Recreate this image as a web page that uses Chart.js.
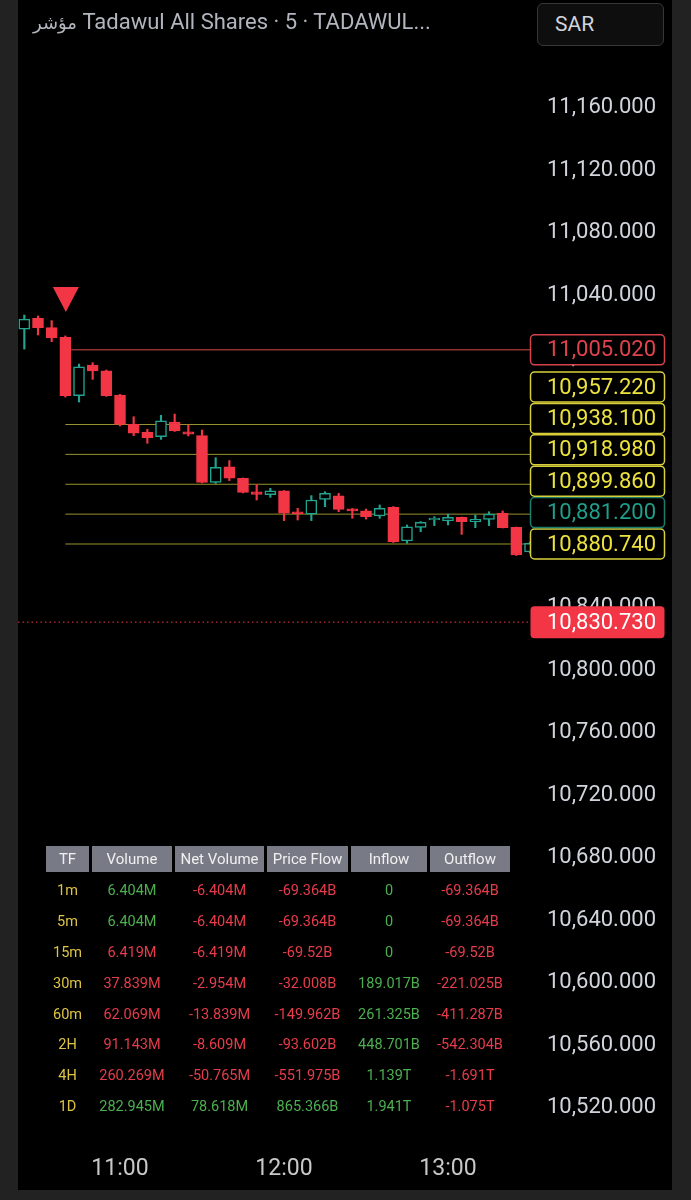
<!DOCTYPE html>
<html lang="en">
<head>
  <meta charset="UTF-8">
  <title>Tadawul All Shares 5m</title>
  <script src="https://cdn.jsdelivr.net/npm/chart.js"></script>
  <style>
    body {
      margin: 0;
      width: 691px;
      height: 1200px;
      overflow: hidden;
      background: #222;
      font-family: Roboto, 'DejaVu Sans', sans-serif;
      position: relative;
    }
    #panel {
      position: absolute;
      left: 18px;
      top: 0;
      width: 654px;
      height: 1190px;
      background: #000;
    }
    #chart { position: absolute; left: 0; top: 0; }
    .title {
      position: absolute;
      left: 15px;
      top: 10px;
      color: #b2b5be;
      font-size: 22px;
      line-height: 24px;
      white-space: nowrap;
    }
    .title .ar { font-size: 18px; }
    .cur {
      position: absolute;
      left: 519px;
      top: 3px;
      width: 127px;
      height: 43px;
      box-sizing: border-box;
      border: 1px solid #363636;
      border-radius: 6px;
      background: #0e0e0e;
      color: #d1d4dc;
      font-size: 21px;
      line-height: 41px;
      padding-left: 17px;
    }
    table {
      position: absolute;
      left: 25px;
      border-collapse: separate;
      border-spacing: 3px 0;
      table-layout: fixed;
    }
    td, th { padding: 0; text-align: center; white-space: nowrap; }
    #head { top: 846px; }
    #head th {
      height: 26px;
      background: #787b86;
      color: #f0f0f0;
      font-weight: normal;
      font-size: 15px;
    }
    #body { top: 875px; }
    #body td { height: 30.9px; font-size: 14.5px; }
    .tf { color: #dcc445; }
    .up { color: #4caf50; }
    .dn { color: #e63c4b; }
  </style>
</head>
<body>
  <div id="panel">
    <canvas id="chart" width="654" height="1190"></canvas>
    <div class="title"><span class="ar">مؤشر</span> Tadawul All Shares · 5 · TADAWUL...</div>
    <div class="cur">SAR</div>
    <table id="head"><tr id="headRow"></tr></table>
    <table id="body"></table>
  </div>
  <script>
    // 5 minute candles
    const candleTimes = ['10:25', '10:30', '10:35', '10:40', '10:45', '10:50', '10:55',
      '11:00', '11:05', '11:10', '11:15', '11:20', '11:25', '11:30', '11:35', '11:40', '11:45', '11:50', '11:55',
      '12:00', '12:05', '12:10', '12:15', '12:20', '12:25', '12:30', '12:35', '12:40', '12:45', '12:50', '12:55',
      '13:00', '13:05', '13:10', '13:15', '13:20', '13:25', '13:30'];
    const opens = [11018.3, 11025.2, 11019.2, 11013.0, 10975.7, 10995.3, 10991.5,
      10976.1, 10957.3, 10952.2, 10949.4, 10958.8, 10952.6, 10950.1, 10920.2, 10930.2, 10922.8, 10914.2, 10912.3,
      10914.7, 10901.4, 10899.9, 10909.3, 10911.5, 10903.1, 10901.9, 10898.7, 10904.2, 10882.7, 10891.4, 10896.1,
      10895.5, 10897.8, 10895.0, 10896.5, 10900.4, 10891.4, 10875.6];
    const highs = [11027.3, 11026.7, 11023.7, 11013.9, 10995.9, 10996.8, 10992.1,
      10976.5, 10962.2, 10954.1, 10963.1, 10963.9, 10956.9, 10953.7, 10936.0, 10934.1, 10923.0, 10918.9, 10916.4,
      10915.0, 10903.6, 10911.7, 10914.2, 10913.2, 10903.5, 10903.1, 10905.7, 10904.7, 10892.9, 10895.1, 10898.2,
      10899.9, 10898.0, 10899.3, 10901.4, 10901.9, 10891.6, 10882.0];
    const lows = [11005.5, 11014.5, 11010.2, 10974.8, 10971.6, 10986.1, 10975.2,
      10956.3, 10950.1, 10945.2, 10947.7, 10952.8, 10949.9, 10919.8, 10919.5, 10921.3, 10913.4, 10908.9, 10910.6,
      10895.7, 10896.1, 10895.7, 10904.6, 10901.4, 10897.2, 10896.7, 10897.2, 10881.7, 10881.2, 10888.6, 10892.5,
      10892.9, 10886.9, 10891.2, 10892.5, 10891.0, 10873.4, 10875.0];
    const closes = [11024.7, 11019.2, 11012.8, 10975.7, 10994.2, 10991.5, 10975.7,
      10957.3, 10951.6, 10948.8, 10959.5, 10953.1, 10951.1, 10920.2, 10929.8, 10922.8, 10913.8, 10912.5, 10914.7,
      10900.4, 10900.1, 10908.9, 10913.2, 10902.9, 10901.9, 10898.2, 10903.6, 10882.2, 10891.8, 10894.6, 10896.9,
      10897.8, 10895.0, 10896.5, 10899.9, 10891.2, 10873.7, 10881.2];

    // horizontal levels drawn from the signal candle
    const resistance = [11005.02];
    const levels = [10957.22, 10938.10, 10918.98, 10899.86, 10880.74];
    const levelStart = '10:40';
    const signalTimes = ['10:40'];
    const lastPrice = 10830.73;

    const priceTicks = [10520, 10560, 10600, 10640, 10680, 10720, 10760, 10800, 10840,
      10880, 10920, 10960, 11000, 11040, 11080, 11120, 11160];
    const timeTicks = ['11:00', '12:00', '13:00'];

    // flow table
    const tfLabels = ['1m', '5m', '15m', '30m', '60m', '2H', '4H', '1D'];
    const volume = ['6.404M', '6.404M', '6.419M', '37.839M', '62.069M', '91.143M', '260.269M', '282.945M'];
    const volumeUp = [true, true, false, false, false, false, false, true];
    const netVolume = ['-6.404M', '-6.404M', '-6.419M', '-2.954M', '-13.839M', '-8.609M', '-50.765M', '78.618M'];
    const priceFlow = ['-69.364B', '-69.364B', '-69.52B', '-32.008B', '-149.962B', '-93.602B', '-551.975B', '865.366B'];
    const inflow = ['0', '0', '0', '189.017B', '261.325B', '448.701B', '1.139T', '1.941T'];
    const outflow = ['-69.364B', '-69.364B', '-69.52B', '-221.025B', '-411.287B', '-542.304B', '-1.691T', '-1.075T'];

    const UP = '#22a38f';
    const DOWN = '#f23645';
    const YELLOW = '#ece23e';
    const FONT = 'Roboto, sans-serif';

    const toMin = s => { const [h, m] = s.split(':').map(Number); return h * 60 + m; };
    const fmtTime = v => String(Math.floor(v / 60)).padStart(2, '0') + ':' + String(v % 60).padStart(2, '0');
    const fmtPrice = v => v.toLocaleString('en-US', { minimumFractionDigits: 3, maximumFractionDigits: 3 });

    // table
    const cols = [43, 80, 89, 81, 76, 80];
    const headers = ['TF', 'Volume', 'Net Volume', 'Price Flow', 'Inflow', 'Outflow'];
    const headRow = document.getElementById('headRow');
    headers.forEach((h, i) => {
      const th = document.createElement('th');
      th.textContent = h;
      th.style.width = cols[i] + 'px';
      headRow.appendChild(th);
    });
    const signCls = s => s.startsWith('-') ? 'dn' : 'up';
    const body = document.getElementById('body');
    tfLabels.forEach((tf, i) => {
      const tr = document.createElement('tr');
      const cells = [
        [tf, 'tf'],
        [volume[i], volumeUp[i] ? 'up' : 'dn'],
        [netVolume[i], signCls(netVolume[i])],
        [priceFlow[i], signCls(priceFlow[i])],
        [inflow[i], signCls(inflow[i])],
        [outflow[i], signCls(outflow[i])]
      ];
      cells.forEach(([txt, cls], j) => {
        const td = document.createElement('td');
        td.textContent = txt;
        td.className = cls;
        td.style.width = cols[j] + 'px';
        tr.appendChild(td);
      });
      body.appendChild(tr);
    });

    // chart
    const viewMin = 622.68, viewMax = 810;
    const isUp = closes.map((c, i) => c >= opens[i]);

    const lineSet = (v, color, from, dash) => ({
      type: 'line',
      data: [{ x: from, y: v }, { x: viewMax, y: v }],
      borderColor: color,
      borderWidth: 1,
      borderDash: dash || [],
      pointRadius: 0,
      order: 3
    });

    // price labels on the right axis, stacked upwards from the bottom
    const axisLabels = {
      id: 'axisLabels',
      afterDraw(chart) {
        const { ctx, scales: { y } } = chart;
        const items = [
          ...resistance.map(v => ({ v, stroke: '#d5434d', text: '#e0434d', fill: '#000' })),
          ...levels.map(v => ({ v, stroke: '#d8cf3c', text: YELLOW, fill: '#000' })),
          { v: closes[closes.length - 1], stroke: '#1c7d6e', text: '#1f9e89', fill: '#000' },
          { v: lastPrice, stroke: DOWN, text: '#fff', fill: DOWN }
        ];
        items.forEach(it => it.py = y.getPixelForValue(it.v));
        items.sort((a, b) => b.py - a.py);
        const h = 31.4;
        let prev = Infinity;
        items.forEach(it => {
          it.py = Math.min(it.py, prev - h);
          prev = it.py;
        });
        ctx.save();
        ctx.font = '22px ' + FONT;
        ctx.textAlign = 'right';
        ctx.textBaseline = 'middle';
        items.forEach(it => {
          const x0 = 512.5, w = 134, bh = it.fill === '#000' ? 30 : 32;
          ctx.beginPath();
          ctx.roundRect(x0, it.py - bh / 2, w, bh, 4);
          ctx.fillStyle = it.fill;
          ctx.fill();
          if (it.fill === '#000') {
            ctx.lineWidth = 1.5;
            ctx.strokeStyle = it.stroke;
            ctx.stroke();
          }
          ctx.fillStyle = it.text;
          ctx.fillText(fmtPrice(it.v), 638, it.py + 1);
        });
        ctx.restore();
      }
    };

    // sell signal marker above the candle
    const signals = {
      id: 'signals',
      afterDatasetsDraw(chart) {
        const { ctx, scales: { x, y } } = chart;
        ctx.save();
        ctx.fillStyle = DOWN;
        signalTimes.forEach(t => {
          const i = candleTimes.indexOf(t);
          const px = x.getPixelForValue(toMin(t)) + 0.5;
          const tip = y.getPixelForValue(highs[i]) - 24;
          ctx.beginPath();
          ctx.moveTo(px - 13, tip - 25);
          ctx.lineTo(px + 13, tip - 25);
          ctx.lineTo(px, tip);
          ctx.closePath();
          ctx.fill();
        });
        ctx.restore();
      }
    };

    new Chart(document.getElementById('chart'), {
      type: 'bar',
      data: {
        datasets: [
          {
            data: candleTimes.map((t, i) => ({ x: toMin(t), y: [Math.min(opens[i], closes[i]), Math.max(opens[i], closes[i])] })),
            backgroundColor: isUp.map(u => u ? '#000' : DOWN),
            borderColor: isUp.map(u => u ? UP : DOWN),
            borderWidth: 1.5,
            borderSkipped: false,
            barThickness: 11,
            minBarLength: 2,
            grouped: false,
            order: 0
          },
          {
            data: candleTimes.map((t, i) => ({ x: toMin(t), y: [lows[i], highs[i]] })),
            backgroundColor: isUp.map(u => u ? UP : DOWN),
            borderWidth: 0,
            barThickness: 1.5,
            grouped: false,
            order: 1
          },
          ...resistance.map(v => lineSet(v, '#d84a4a', toMin(levelStart))),
          ...levels.map(v => lineSet(v, 'rgba(200,195,60,0.75)', toMin(levelStart))),
          lineSet(lastPrice, DOWN, viewMin, [1.5, 3])
        ]
      },
      options: {
        responsive: false,
        animation: false,
        events: [],
        layout: { padding: { top: 60, right: 16, left: 0, bottom: 0 } },
        plugins: { legend: { display: false }, tooltip: { enabled: false } },
        scales: {
          x: {
            type: 'linear',
            min: viewMin,
            max: viewMax,
            offset: false,
            grid: { display: false },
            border: { display: false },
            afterBuildTicks: axis => { axis.ticks = timeTicks.map(t => ({ value: toMin(t) })); },
            afterFit: axis => { axis.height = 50; },
            ticks: {
              color: '#c8c8c8',
              font: { family: FONT, size: 23 },
              padding: 7,
              maxRotation: 0,
              callback: v => fmtTime(v)
            }
          },
          y: {
            position: 'right',
            min: 10499.3,
            max: 11190.5,
            grid: { display: false },
            border: { display: false },
            afterBuildTicks: axis => { axis.ticks = priceTicks.map(v => ({ value: v })); },
            afterFit: axis => { axis.width = 126; },
            ticks: {
              color: '#d1d4dc',
              font: { family: FONT, size: 22 },
              crossAlign: 'far',
              callback: v => fmtPrice(v)
            }
          }
        }
      },
      plugins: [signals, axisLabels]
    });
  </script>
</body>
</html>
